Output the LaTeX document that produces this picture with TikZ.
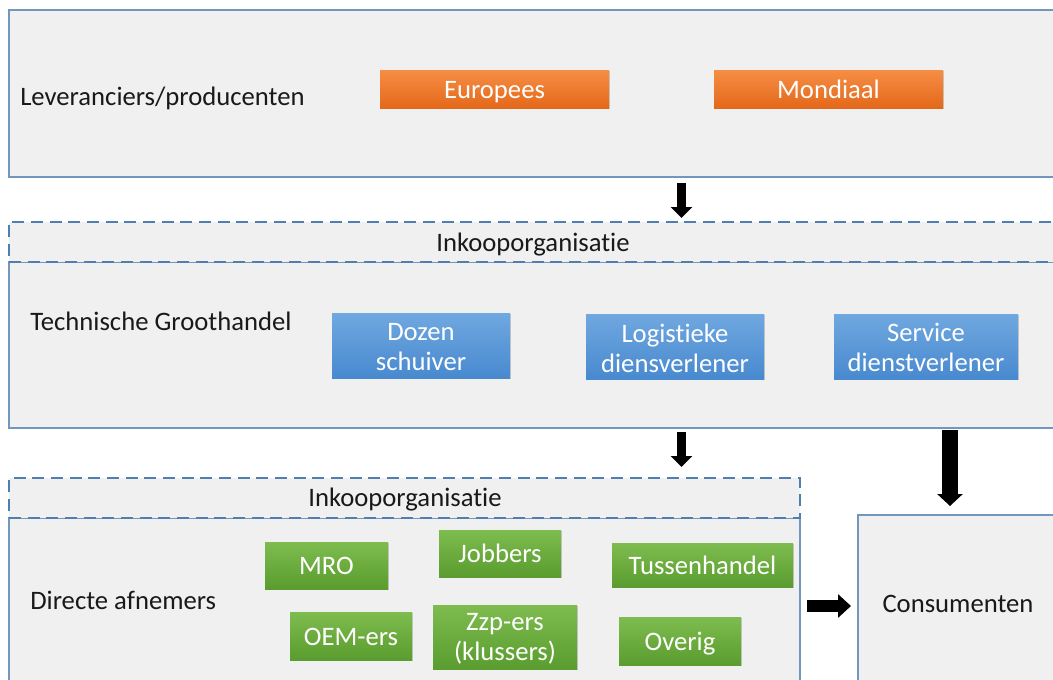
\documentclass[tikz,border=0pt]{standalone}
\usepackage{fontspec}
\setmainfont{Carlito}[Ligatures={NoCommon}]
\usetikzlibrary{fit,arrows.meta,shadows}
\definecolor{panel}{HTML}{F0F0F0}
\definecolor{edge}{HTML}{7396BF}
\definecolor{dashc}{HTML}{4F7FB0}
\definecolor{orT}{HTML}{F58E45}
\definecolor{orB}{HTML}{E4681A}
\definecolor{blT}{HTML}{70A8E0}
\definecolor{blB}{HTML}{4889CF}
\definecolor{grT}{HTML}{7EBC4F}
\definecolor{grB}{HTML}{5A9C2F}
\newcommand{\bigfont}{\fontsize{20}{22.5}\selectfont}
\tikzset{
  panelbox/.style={draw=edge, line width=1.3pt*0.75, fill=panel, inner sep=0pt},
  dashbox/.style={draw=dashc, line width=2pt*0.75, dash pattern=on 9pt off 5pt, fill=panel, inner sep=0pt},
  oneline/.style={text height=18pt, text depth=4pt},
  lbl/.style={font=\bigfont, text=black!90, inner sep=0pt, oneline},
  cbox/.style={inner sep=0pt, drop shadow={opacity=0.35, shadow xshift=1pt, shadow yshift=-1pt}},
  orange box/.style={cbox, top color=orT, bottom color=orB},
  blue box/.style={cbox, top color=blT, bottom color=blB},
  green box/.style={cbox, top color=grT, bottom color=grB},
  wtext/.style={text=white, font=\bigfont, inner sep=0pt, oneline},
  wtext2/.style={text=white, font=\bigfont, inner sep=0pt, align=center, yshift=-1pt},
  thinarrow/.style={draw=black, line width=9pt*0.75, -{Triangle[width=21pt*0.75, length=11pt*0.75]}},
  thickarrow/.style={draw=black, line width=16pt*0.75, -{Triangle[width=25pt*0.75, length=12pt*0.75]}},
  sidearrow/.style={draw=black, line width=12pt*0.75, -{Triangle[width=23pt*0.75, length=13pt*0.75]}},
}
\begin{document}
\begin{tikzpicture}[x=0.75pt,y=-0.75pt]
\clip (0,0) rectangle (1053,679);
\fill[white] (0,0) rectangle (1053,679);
% panels
\node[panelbox, fit={(9,10) (1070,177)}] (top) {};
\node[panelbox, fit={(9,262) (1070,428)}] (tg) {};
\node[dashbox, fit={(9,222) (1070,262)}] (ink1) {};
\node[panelbox, fit={(9,518) (800,700)}] (da) {};
\node[dashbox, fit={(9,478) (800,518)}] (ink2) {};
\node[panelbox, fit={(858,515) (1070,700)}] (cons) {};
% labels
\node[lbl, anchor=west] (tlev) at (20,96) {Leveranciers/producenten};
\node[lbl, anchor=west] (ttg) at (30,321) {Technische Groothandel};
\node[lbl, anchor=west] (tda) at (30,600) {Directe afnemers};
\node[lbl] (tink1) at (533,242) {Inkooporganisatie};
\node[lbl] (tink2) at (405,497) {Inkooporganisatie};
\node[lbl] (tcons) at (958,603) {Consumenten};
% orange
\node[orange box, fit={(380,70) (609,108)}] (eu) {};
\node[wtext] (teu) at (eu.center) {Europees};
\node[orange box, fit={(714,70) (943,108)}] (mo) {};
\node[wtext] (tmo) at (mo.center) {Mondiaal};
% blue
\node[blue box, fit={(332,313) (510,378)}] (dz) {};
\node[wtext2] (tdz) at (dz.center) {Dozen\\schuiver};
\node[blue box, fit={(586,314) (764,379)}] (lg) {};
\node[wtext2] (tlg) at (lg.center) {Logistieke\\diensverlener};
\node[blue box, fit={(834,314) (1018,379)}] (sv) {};
\node[wtext2] (tsv) at (sv.center) {Service\\dienstverlener};
% green
\node[green box, fit={(265,542) (388,589)}] (mro) {};
\node[wtext] (tmro) at (mro.center) {MRO};
\node[green box, fit={(439,530) (561,577)}] (job) {};
\node[wtext] (tjob) at (job.center) {Jobbers};
\node[green box, fit={(612,543) (793,587)}] (tus) {};
\node[wtext] (ttus) at (tus.center) {Tussenhandel};
\node[green box, fit={(290,612) (412,660)}] (oem) {};
\node[wtext] (toem) at (oem.center) {OEM-ers};
\node[green box, fit={(433,605) (577,669)}] (zzp) {};
\node[wtext2] (tzzp) at (zzp.center) {Zzp-ers\\(klussers)};
\node[green box, fit={(619,617) (741,665)}] (ov) {};
\node[wtext] (tov) at (ov.center) {Overig};
% arrows
\coordinate (a1s) at (681.5,183);
\coordinate (a1e) at (681.5,218);
\draw[thinarrow] (a1s) -- (a1e);
\coordinate (a2s) at (681.5,432);
\coordinate (a2e) at (681.5,467);
\draw[thinarrow] (a2s) -- (a2e);
\coordinate (a3s) at (950,430);
\coordinate (a3e) at (950,506);
\draw[thickarrow] (a3s) -- (a3e);
\coordinate (a4s) at (807,606);
\coordinate (a4e) at (851,606);
\draw[sidearrow] (a4s) -- (a4e);
\end{tikzpicture}
\end{document}
